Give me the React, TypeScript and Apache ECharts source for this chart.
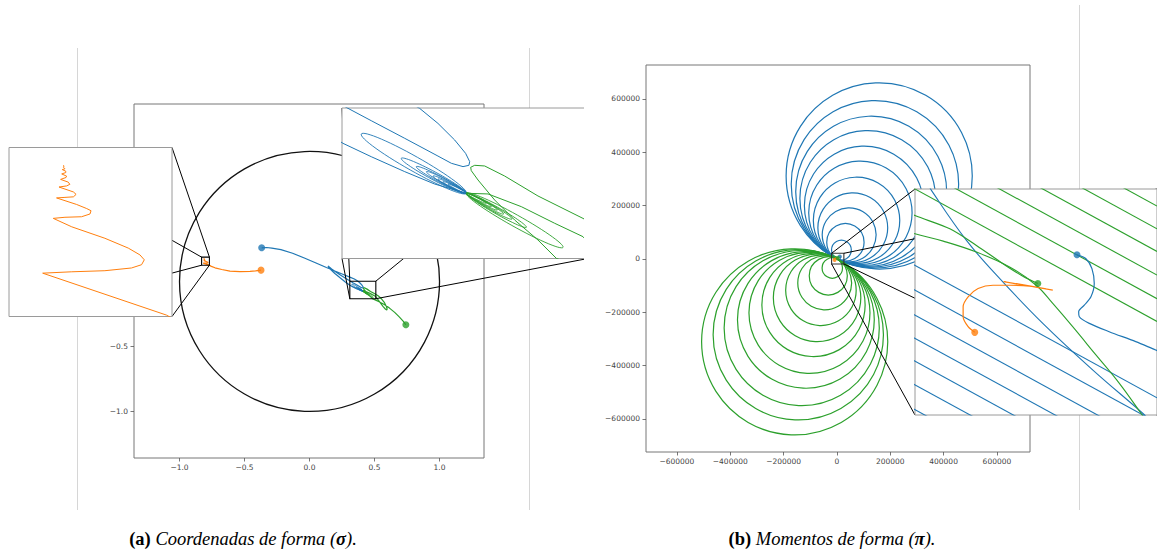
import { useEffect, useRef } from 'react';
import * as echarts from 'echarts';

const BLUE = '#1f77b4';
const ORANGE = '#ff7f0e';
const GREEN = '#2ca02c';

// ---------------- Panel (a): shape coordinates ----------------
const aTicks = [-1.0, -0.5, 0.0, 0.5, 1.0];
const aXRange = [-1.35, 1.342];
const aYRange = [-1.358, 1.365];
const unitCircleA = [[0, 0, 1]];

const orangeA = [
  [-0.373, 0.087], [-0.415, 0.081], [-0.458, 0.077], [-0.535, 0.075], [-0.612, 0.079], [-0.675, 0.092],
  [-0.727, 0.105], [-0.755, 0.116], [-0.772, 0.1255], [-0.8176, 0.1409], [-0.8069, 0.1414], [-0.7947, 0.1418],
  [-0.7849, 0.1428], [-0.7812, 0.144], [-0.7802, 0.1458], [-0.7818, 0.1476], [-0.7861, 0.1501], [-0.7947, 0.1537],
  [-0.8069, 0.1579], [-0.8137, 0.161], [-0.8094, 0.1614], [-0.8033, 0.1616], [-0.8002, 0.1626], [-0.7998, 0.1638],
  [-0.8014, 0.1646], [-0.8051, 0.1661], [-0.8125, 0.1685], [-0.8094, 0.1687], [-0.8063, 0.1689], [-0.8053, 0.1698],
  [-0.8063, 0.1707], [-0.8116, 0.1725], [-0.8088, 0.1729], [-0.8076, 0.1735], [-0.8082, 0.1743], [-0.811, 0.1753],
  [-0.809, 0.176], [-0.8088, 0.1765], [-0.8106, 0.1773], [-0.8091, 0.1778], [-0.8091, 0.1783], [-0.8104, 0.1789],
  [-0.8094, 0.1792], [-0.81, 0.1798], [-0.8097, 0.1802], [-0.81, 0.1805],
];

const blueA = [
  [-0.368, 0.259], [-0.33, 0.261], [-0.29, 0.257], [-0.22, 0.245], [-0.13, 0.217], [-0.04, 0.18], [0.05, 0.142],
  [0.13, 0.107], [0.2, 0.078], [0.26, 0.054], [0.31, 0.033], [0.345, 0.019], [0.3731, 0.0017], [0.388, -0.0118],
  [0.4016, -0.0267], [0.4105, -0.0387], [0.4138, -0.0461], [0.4132, -0.0494], [0.4084, -0.0506], [0.3989, -0.0476],
  [0.388, -0.0411], [0.361, -0.0252], [0.3338, -0.0094], [0.3149, 0.0017], [0.28, 0.022], [0.24, 0.047],
  [0.2, 0.074], [0.17, 0.096], [0.152, 0.111], [0.143, 0.119], [0.147, 0.11], [0.165, 0.09], [0.195, 0.061],
  [0.235, 0.028], [0.275, -0.004], [0.3108, -0.0297], [0.3338, -0.0417], [0.361, -0.0551], [0.3853, -0.0662],
  [0.4111, -0.0745],
];

const greenA = [
  [0.741, -0.333], [0.72, -0.305], [0.69, -0.272], [0.655, -0.238], [0.615, -0.205], [0.575, -0.178],
  [0.535, -0.156], [0.505, -0.142], [0.4843, -0.1329], [0.4693, -0.1164], [0.4504, -0.0985], [0.4341, -0.0805],
  [0.4206, -0.0626], [0.4151, -0.0542], [0.4146, -0.0512], [0.4179, -0.0494], [0.426, -0.05], [0.4422, -0.059],
  [0.4693, -0.0769], [0.5059, -0.097], [0.53, -0.112], [0.555, -0.135], [0.575, -0.16], [0.59, -0.19],
  [0.597, -0.212], [0.594, -0.22], [0.583, -0.212], [0.565, -0.192], [0.545, -0.165], [0.525, -0.138],
  [0.5059, -0.1134], [0.4829, -0.1014], [0.4558, -0.0865], [0.4287, -0.0751], [0.4111, -0.0745],
];

const loopPivotA = [0.4111, -0.0745];
// [tip x, tip y, half width]
const blueLoopsA = [
  [0.3257, -0.0213, 0.0062], [0.3582, -0.0431, 0.0034], [0.3704, -0.0506, 0.0025], [0.3786, -0.0551, 0.002],
  [0.384, -0.059, 0.0017], [0.3881, -0.0617, 0.0014], [0.3921, -0.0641, 0.0011], [0.3962, -0.0662, 0.0008],
];
const greenLoopsA = [
  [0.4897, -0.123, 0.005], [0.4599, -0.105, 0.0028], [0.4482, -0.0976, 0.0022], [0.4414, -0.0931, 0.0017],
  [0.4363, -0.0895, 0.0014], [0.4314, -0.0865, 0.0011], [0.4273, -0.0835, 0.0008],
];
const zoomLeftA = { x: [-0.83, -0.77], y: [0.125, 0.187] };
const zoomRightA = { x: [0.31, 0.51], y: [-0.133, 0.002] };

// ---------------- Panel (b): shape momenta ----------------
const bTicks = [-600000, -400000, -200000, 0, 200000, 400000, 600000];
const bXRange = [-716000, 724000];
const bYRange = [-724000, 727000];
// [center x, center y, radius]
const blueCirclesB = [
  [158450, 310960, 349000], [142510, 279680, 313900], [128480, 252150, 283000], [115500, 226670, 254400],
  [101470, 199140, 223500], [87990, 172680, 193800], [73550, 144340, 162000], [59430, 116630, 130900],
  [45900, 90080, 101100], [31780, 62370, 70000], [16840, 33060, 37100],
];
const greenCirclesB = [
  [-158450, -310960, 349000], [-144960, -284500, 319300], [-132070, -259190, 290900], [-116450, -228540, 256500],
  [-103010, -202170, 226900], [-87890, -172500, 193600], [-74460, -146120, 164000], [-60020, -117790, 132200],
  [-45850, -89990, 101000], [-32420, -63620, 71400], [-17390, -34130, 38300],
];
const zoomB = { x: [-20000, 26000], y: [-19000, 21000] };

const blueTrajB = [
  [10790, 9370], [12497, 8666], [13633, 6904], [14074, 4261], [13443, 1912], [12181, 443], [11108, -730],
  [11234, -1612], [13128, -2787], [16914, -4255], [21962, -6017], [25748, -7486], [29000, -8700],
];
const orangeTrajB = [
  [-8642, -4373], [-9905, -3374], [-10851, -1612], [-10851, 150], [-9905, 1912], [-8011, 3380], [-5172, 3967],
  [-2017, 3967], [1770, 3791], [6187, 3086], [-3152, 4613], [4924, 3322], [-754, 4261], [3347, 3615],
];
const greenTrajB = [
  [3347, 4261], [507, 5553], [-3279, 7785], [-8326, 11015], [-13375, 13952], [-20000, 16301], [-23000, 17600],
];
const blueStreaksB = [
  [[-21000, 7995], [26000, -15952]],
  [[-21000, 3590], [26000, -20357]],
  [[-21000, -815], [26000, -24762]],
  [[-21000, -4920], [26000, -28867]],
  [[-21000, -8970], [26000, -32917]],
  [[-21000, -13150], [26000, -37097]],
  [[-21000, -17550], [26000, -41497]],
];
const greenStreaksB = [
  [[-22000, 22019], [26000, -2437]],
  [[-14110, 22019], [26000, 1583]],
  [[-5910, 22019], [26000, 5761]],
  [[2290, 22019], [26000, 9939]],
  [[10180, 22019], [26000, 13959]],
  [[18070, 22019], [26000, 17979]],
];
const blueArcB = [
  [-17476, 21881], [-16845, 20706], [-10219, 11896], [-4540, 5800], [4293, -2787], [13758, -11010],
  [23224, -18645], [24486, -19820],
];
const greenArcB = [
  [-21000, 13400], [-20000, 13071], [-14637, 11779], [-8326, 9841], [-2017, 7198], [3032, 3967], [6187, 737],
  [9972, -3374], [14390, -8367], [18807, -13359], [22908, -18645], [23539, -19526],
];

const fmtA = (v: number) => (v < 0 ? '\u2212' : '') + Math.abs(v).toFixed(1);
const fmtB = (v: number) => (v < 0 ? '\u2212' : '') + String(Math.abs(Math.round(v)));

const circleRenderer = (color: string, lw: number) => (_p: any, api: any) => {
  const c = api.coord([api.value(0), api.value(1)]);
  const s = api.size([api.value(2), api.value(2)]);
  return {
    type: 'circle',
    shape: { cx: c[0], cy: c[1], r: (s[0] + s[1]) / 2 },
    style: { fill: 'none', stroke: color, lineWidth: lw },
  };
};

const loopRenderer = (pivot: number[], color: string, lw: number) => (_p: any, api: any) => {
  const p0 = api.coord(pivot);
  const p1 = api.coord([api.value(0), api.value(1)]);
  const hw = api.size([api.value(2), api.value(2)]);
  const w = (hw[0] + hw[1]) / 2;
  const dx = p1[0] - p0[0];
  const dy = p1[1] - p0[1];
  const len = Math.hypot(dx, dy) || 1;
  const ux = dx / len;
  const uy = dy / len;
  const pts: number[][] = [];
  for (let k = 0; k <= 60; k++) {
    const t = (2 * Math.PI * k) / 60;
    const s = ((1 - Math.cos(t)) / 2) * len;
    const h = Math.sin(t) * w;
    pts.push([p0[0] + ux * s - uy * h, p0[1] + uy * s + ux * h]);
  }
  return { type: 'polyline', shape: { points: pts }, style: { fill: 'none', stroke: color, lineWidth: lw } };
};

const lineS = (grid: number, data: any[], color: string, lw: number, z: number, smooth: any = false) => ({
  type: 'line', xAxisIndex: grid, yAxisIndex: grid, data, showSymbol: false, smooth,
  lineStyle: { color, width: lw }, itemStyle: { color }, z, silent: true,
});
const dotS = (grid: number, pt: number[], color: string, size: number, z: number) => ({
  type: 'scatter', xAxisIndex: grid, yAxisIndex: grid, data: [pt], symbolSize: size,
  itemStyle: { color }, z: z + 1, silent: true,
});

export default function App() {
  const ref = useRef<HTMLDivElement>(null);
  useEffect(() => {
    if (!ref.current) return;
    const chart = echarts.init(ref.current, undefined, { renderer: 'svg' });

    const tickLabel = { fontSize: 7.5, color: '#444', fontFamily: 'DejaVu Sans' };
    const mainAxis = (grid: number, range: number[], ticks: number[], fmt: any, margin: number) => ({
      type: 'value', gridIndex: grid, min: range[0], max: range[1],
      splitLine: { show: false }, axisLine: { show: false, onZero: false },
      axisTick: { show: true, length: 3.5, customValues: ticks, lineStyle: { color: '#555', width: 0.8 } },
      axisLabel: { show: true, customValues: ticks, formatter: fmt, margin, ...tickLabel },
    });
    const insetAxis = (grid: number, range: number[]) => ({
      type: 'value', gridIndex: grid, min: range[0], max: range[1], show: false,
      axisLine: { onZero: false }, splitLine: { show: false },
    });

    const series: any[] = [];
    // panel a: main (0), left inset (1), right inset (2)
    [0, 1, 2].forEach((g) => {
      const z = g === 0 ? 2 : 6;
      const lw = g === 0 ? 1.2 : 1;
      series.push({
        type: 'custom', xAxisIndex: g, yAxisIndex: g, data: unitCircleA, clip: true, z, silent: true,
        renderItem: circleRenderer('#111', 1.3),
      });
      series.push(lineS(g, orangeA, ORANGE, lw, z));
      series.push(lineS(g, blueA, BLUE, lw, z));
      series.push(lineS(g, greenA, GREEN, lw, z));
      series.push({
        type: 'custom', xAxisIndex: g, yAxisIndex: g, data: blueLoopsA, clip: true, z, silent: true,
        renderItem: loopRenderer(loopPivotA, BLUE, 0.9),
      });
      series.push({
        type: 'custom', xAxisIndex: g, yAxisIndex: g, data: greenLoopsA, clip: true, z, silent: true,
        renderItem: loopRenderer(loopPivotA, GREEN, 0.9),
      });
      series.push(dotS(g, orangeA[0], ORANGE, 7, z));
      series.push(dotS(g, blueA[0], BLUE, 7, z));
      series.push(dotS(g, greenA[0], GREEN, 7, z));
    });
    // panel b main (3)
    series.push({
      type: 'custom', xAxisIndex: 3, yAxisIndex: 3, data: blueCirclesB, clip: true, z: 2, silent: true,
      renderItem: circleRenderer(BLUE, 1.2),
    });
    series.push({
      type: 'custom', xAxisIndex: 3, yAxisIndex: 3, data: greenCirclesB, clip: true, z: 2, silent: true,
      renderItem: circleRenderer(GREEN, 1.2),
    });
    series.push(lineS(3, orangeTrajB, ORANGE, 1, 2));
    series.push(lineS(3, blueTrajB, BLUE, 1, 2));
    series.push(lineS(3, greenTrajB, GREEN, 1, 2));
    series.push(dotS(3, orangeTrajB[0], ORANGE, 4, 2));
    series.push(dotS(3, blueTrajB[0], BLUE, 4, 2));
    series.push(dotS(3, greenTrajB[0], GREEN, 4, 2));
    // panel b inset (4)
    blueStreaksB.forEach((s) => series.push(lineS(4, s, BLUE, 1.1, 6)));
    greenStreaksB.forEach((s) => series.push(lineS(4, s, GREEN, 1.1, 6)));
    series.push(lineS(4, blueArcB, BLUE, 1.1, 6, 0.4));
    series.push(lineS(4, greenArcB, GREEN, 1.1, 6, 0.4));
    series.push(lineS(4, orangeTrajB, ORANGE, 1.2, 6, 0.3));
    series.push(lineS(4, blueTrajB, BLUE, 1.2, 6, 0.3));
    series.push(lineS(4, greenTrajB, GREEN, 1.2, 6, 0.3));
    series.push(dotS(4, orangeTrajB[0], ORANGE, 7, 6));
    series.push(dotS(4, blueTrajB[0], BLUE, 7, 6));
    series.push(dotS(4, greenTrajB[0], GREEN, 7, 6));

    const border = (z: number, inset: boolean) => ({
      show: true, borderColor: inset ? '#9a9a9a' : '#777', borderWidth: 1,
      backgroundColor: inset ? '#fff' : 'transparent', z,
    });

    chart.setOption({
      animation: false,
      backgroundColor: '#fff',
      grid: [
        { left: 134, top: 104, width: 350, height: 354, ...border(0, false) },
        { left: 9, top: 147.5, width: 163, height: 169, ...border(5, true) },
        { left: 342, top: 108, width: 246, height: 150.5, ...border(5, true) },
        { left: 646, top: 65, width: 384, height: 387, ...border(0, false) },
        { left: 915, top: 189, width: 243, height: 226, ...border(5, true) },
      ],
      xAxis: [
        mainAxis(0, aXRange, aTicks, fmtA, 5),
        insetAxis(1, zoomLeftA.x),
        insetAxis(2, zoomRightA.x),
        mainAxis(3, bXRange, bTicks, fmtB, 5),
        insetAxis(4, zoomB.x),
      ],
      yAxis: [
        mainAxis(0, aYRange, aTicks, fmtA, 6),
        insetAxis(1, zoomLeftA.y),
        insetAxis(2, zoomRightA.y),
        mainAxis(3, bYRange, bTicks, fmtB, 6),
        insetAxis(4, zoomB.y),
      ],
      series,
    });

    const elements: any[] = [];
    const pageLine = (x: number, y1: number, y2: number) => ({
      type: 'line', shape: { x1: x, y1, x2: x, y2 }, style: { stroke: '#d6d6d6', lineWidth: 1 }, z: 0, silent: true,
    });
    elements.push(pageLine(77.5, 48, 510), pageLine(529.5, 48, 510), pageLine(1079.5, 5, 510));

    const connect = (mainG: number, insetG: number, r: { x: number[]; y: number[] }, stroke: string) => {
      const corners = [
        [r.x[0], r.y[1]], [r.x[1], r.y[1]], [r.x[1], r.y[0]], [r.x[0], r.y[0]],
      ];
      const boxPts = corners.map((c) => chart.convertToPixel({ gridIndex: mainG } as any, c) as number[]);
      const insPts = corners.map((c) => chart.convertToPixel({ gridIndex: insetG } as any, c) as number[]);
      elements.push({
        type: 'polygon', shape: { points: boxPts }, style: { fill: 'none', stroke, lineWidth: 1.1 }, z: 3, silent: true,
      });
      for (let i = 0; i < 4; i++) {
        elements.push({
          type: 'line',
          shape: { x1: boxPts[i][0], y1: boxPts[i][1], x2: insPts[i][0], y2: insPts[i][1] },
          style: { stroke: '#000', lineWidth: 1 }, z: 3, silent: true,
        });
      }
    };
    connect(0, 1, zoomLeftA, '#000');
    connect(0, 2, zoomRightA, '#000');
    connect(3, 4, zoomB, '#333');

    // page clipping of the right inset of panel (a)
    elements.push({
      type: 'rect', shape: { x: 584, y: 95, width: 16, height: 210 }, style: { fill: '#fff' }, z: 20, silent: true,
    });

    const serif = 'Liberation Serif, DejaVu Serif, serif';
    const caption = (x: number, label: string, body: string, sym: string) => ({
      type: 'text', x, y: 539, z: 20, silent: true,
      style: {
        text: `{b|(${label})} {i|${body} (}{s|${sym}}{i|).}`,
        align: 'center', verticalAlign: 'middle', fill: '#000',
        rich: {
          b: { fontFamily: serif, fontWeight: 'bold', fontSize: 18.5, fill: '#000' },
          i: { fontFamily: serif, fontStyle: 'italic', fontSize: 18.5, fill: '#000' },
          s: { fontFamily: serif, fontStyle: 'italic', fontWeight: 'bold', fontSize: 18.5, fill: '#000' },
        },
        fontSize: 18.5, fontFamily: serif,
      },
    });
    elements.push(caption(243, 'a', 'Coordenadas de forma', '\u03c3'));
    elements.push(caption(832, 'b', 'Momentos de forma', '\u03c0'));

    chart.setOption({ graphic: { elements } });

    return () => chart.dispose();
  }, []);
  return <div ref={ref} style={{ position: 'fixed', left: 0, top: 0, width: 1157, height: 556 }} />;
}
